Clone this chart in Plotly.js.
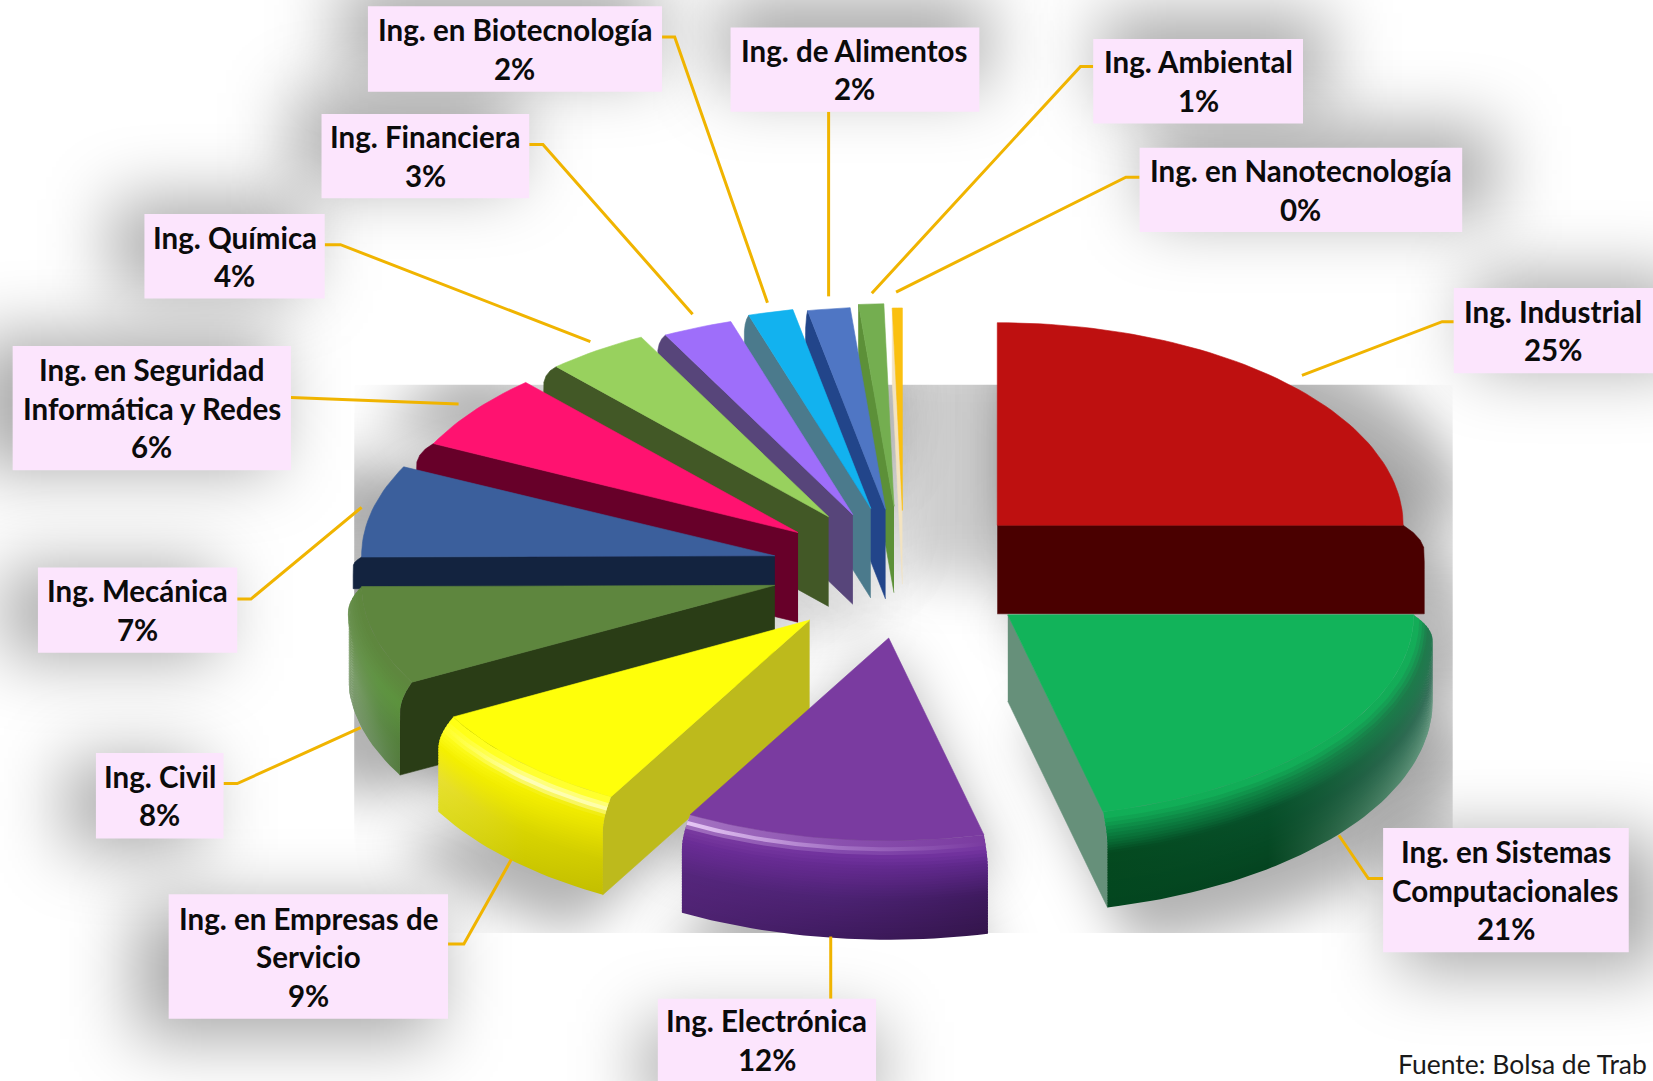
<!DOCTYPE html>
<html><head><meta charset="utf-8">
<script src="https://cdn.plot.ly/plotly-3.0.1.min.js"></script>
<style>html,body{margin:0;padding:0;background:#fff}#c{width:1653px;height:1081px}</style>
</head><body><div id="c"></div>
<script>
// DATA
const categories=["Ing. Industrial","Ing. en Sistemas\nComputacionales","Ing. Electrónica","Ing. en Empresas de\nServicio","Ing. Civil","Ing. Mecánica","Ing. en Seguridad\nInformática y Redes","Ing. Química","Ing. Financiera","Ing. en Biotecnología","Ing. de Alimentos","Ing. Ambiental","Ing. en Nanotecnología"];
const values=[25.2,21.4,12,9,7.9,7.4,6.1,4.1,2.8,1.8,1.7,1,0.4];
// STYLE
const topColors=["#BE1010","#12B35A","#7A3BA0","#FFFF0A","#5E863E","#3B5F9C","#FF1270","#98D15E","#9E6EFA","#12B2EF","#4F76C4","#74AE50","#FAC010"];
const faceColors=["#4A0000","#66907A","#4E2272","#BDBA1C","#2A3D16","#13233F","#670029","#425826","#57457A","#4B7A8C","#22458A","#5C9038","#F3E3C0"];
// rim colour profiles, top to bottom of the rim, at the left / middle / right of a slice
const rimStops=[null,
 [[[0,"#12B35A"],[.15,"#0A7F40"],[.35,"#04491F"],[1,"#03461F"]],
  [[0,"#12B35A"],[.12,"#0E7F42"],[.3,"#07502A"],[1,"#04431F"]],
  [[0,"#12B35A"],[.12,"#1F7A4C"],[.5,"#35705A"],[1,"#6A9C84"]]],
 [[[0,"#7A3BA0"],[.04,"#F3D8FF"],[.09,"#7A3BA0"],[.2,"#6A2C96"],[.55,"#55267C"],[1,"#4F2373"]],
  [[0,"#7A3BA0"],[.04,"#A878C8"],[.09,"#7333A0"],[.2,"#642A90"],[.55,"#4C2272"],[1,"#3E1A5E"]],
  [[0,"#7A3BA0"],[.04,"#7A3BA0"],[.09,"#7333A0"],[.2,"#5E288A"],[.55,"#3E1A5E"],[1,"#33154A"]]],
 [[[0,"#FFFF0A"],[.1,"#FFFF20"],[.25,"#F5F000"],[.6,"#E8E030"],[1,"#DEDC20"]],
  [[0,"#FFFF0A"],[.07,"#FFFFC0"],[.14,"#F5F000"],[.6,"#D8D400"],[1,"#CBC700"]],
  [[0,"#FFFF0A"],[.07,"#FFFFB0"],[.14,"#EEE800"],[.6,"#CFCA00"],[1,"#C2BD00"]]],
 [[[0,"#5E863E"],[.2,"#6A9050"],[.6,"#80A070"],[1,"#7E9A72"]],
  [[0,"#5E863E"],[.2,"#5F9442"],[.6,"#5E8A48"],[1,"#668A58"]],
  [[0,"#5E863E"],[.2,"#5A923A"],[.6,"#4E7A34"],[1,"#4A7030"]]],
];
// LAYOUT GEOMETRY (in the 1568 x 1025 frame of the axes)
const tipX=[946,956,843,768,735,735,757,786,809,826,840,848,856];
const tipY=[498,583,605,588,555,527,505,490,488,482,483,480,484];
const radX=[385,385,385,385,392,392,385,385,385,385,385,385,385];
const radY=[192,192,192,192,192,192,192,192,192,192,192,192,192];
const depth=[84,82,86,86,85,30,85,85,85,85,85,82,70];
const bulge=[20,18,16,16,13,8,18,18,16,14,10,2,0];
const drawOrder=[12,11,10,9,8,7,6,5,4,3,2,0,1];
const boxX0=[1379,1312,624,160,91,36,12,137,305,349,693,1037,1081];
const boxX1=[1568,1545,831,425,212,225,276,308,502,628,929,1236,1387];
const boxY0=[273,785,947,848,714,538,328,203,108,6,26,37,140];
const boxY1=[354,903,1025,966,795,619,446,283,188,87,106,117,220];
const leadX=[[1379,1368,1235],[1312,1298,1270],[788,788],[425,440,485],[212,225,342],[225,238,343],[276,435],[308,323,560],[502,515,657],[628,640,728],[786,786],[1037,1025,827],[1081,1068,850]];
const leadY=[[305,305,356],[833,833,792],[947,888],[895,895,815],[743,743,690],[568,568,481],[377,383],[232,232,324],[137,137,298],[35,35,287],[106,281],[63,63,278],[168,168,277]];
const sourceText="Fuente: Bolsa de Trab";

const W=1568,H=1025,PX=1653/1568;
const total=values.reduce((a,b)=>a+b,0);
const angStart=[],angEnd=[];let acc=-90;
values.forEach((v,i)=>{angStart[i]=acc;acc+=360*v/total;angEnd[i]=acc;});
const rad=d=>d*Math.PI/180;
function prof(i,t){const u=Math.min(t/.3,1);return bulge[i]*(1-(1-u)*(1-u));}
function pt(i,a,t){const dr=prof(i,t);return [tipX[i]+(radX[i]+dr)*Math.cos(rad(a)),tipY[i]+(radY[i]+dr/2)*Math.sin(rad(a))+depth[i]*t];}
function arc(i,a0,a1,t){const n=Math.max(2,Math.ceil(Math.abs(a1-a0)/1.5));const r=[];for(let k=0;k<=n;k++)r.push(pt(i,a0+(a1-a0)*k/n,t));return r;}
function hex(c){return [1,3,5].map(k=>parseInt(c.substr(k,2),16));}
function colorAt(st,t){for(let k=1;k<st.length;k++){if(t<=st[k][0]){const f=(t-st[k-1][0])/(st[k][0]-st[k-1][0]);const a=hex(st[k-1][1]),b=hex(st[k][1]);return "rgb("+a.map((v,j)=>Math.round(v+(b[j]-v)*f)).join(",")+")";}}return "rgb("+hex(st[st.length-1][1]).join(",")+")";}
function poly(points,color,name){return {type:"scatter",mode:"lines",x:points.map(p=>p[0]),y:points.map(p=>p[1]),fill:"toself",fillcolor:color,line:{color:color,width:.6},name:name,hoverinfo:"name",showlegend:false};}

const traces=[];
drawOrder.forEach(i=>{
 const name=categories[i].replace("\n"," ");
 const a0=angStart[i],a1=angEnd[i];
 const tip=[tipX[i],tipY[i]],tipB=[tipX[i],tipY[i]+depth[i]];
 const ts=[];for(let k=0;k<=12;k++)ts.push(k/12);
 const face=a=>[tip].concat(ts.map(t=>pt(i,a,t))).concat([tipB]);
 const norm=a=>((a%360)+360)%360;
 if(norm(a0)>90&&norm(a0)<270)traces.push(poly(face(a0),faceColors[i],name));
 if(norm(a1)<90||norm(a1)>270)traces.push(poly(face(a1),faceColors[i],name));
 const f0=Math.max(a0,0),f1=Math.min(a1,180);
 if(f1>f0&&rimStops[i]){
  const K=34;
  const xs=arc(i,f0,f1,.5).map(p=>p[0]).concat(arc(i,f0,f1,0).map(p=>p[0]),arc(i,f0,f1,1).map(p=>p[0]));
  const xa=Math.min(...xs),xb=Math.max(...xs);
  for(let k=K-1;k>=0;k--){
   const t0=k/K,t1=Math.min(1,(k+1.6)/K),tm=(k+.5)/K;
   const tr=poly(arc(i,f0,f1,t0).concat(arc(i,f1,f0,t1)),colorAt(rimStops[i][1],tm),name);
   tr.line={width:0};
   tr.fillgradient={type:"horizontal",start:xa,stop:xb,colorscale:[[0,colorAt(rimStops[i][0],tm)],[.5,colorAt(rimStops[i][1],tm)],[1,colorAt(rimStops[i][2],tm)]]};
   delete tr.fillcolor;
   traces.push(tr);
  }
 }
 traces.push(poly([tip].concat(arc(i,a0,a1,0)).concat([tip]),topColors[i],name));
});

function backdrop(){
 const cv=document.createElement("canvas");cv.width=1653;cv.height=1081;
 const g=cv.getContext("2d");g.fillStyle="#fff";g.fillRect(0,0,1653,1081);g.scale(PX,PX);
 const cx=840,cy=520;
 g.save();g.beginPath();g.rect(336,365,1042,520);g.clip();
 g.filter="blur(26px)";g.fillStyle="rgba(0,0,0,.3)";
 values.forEach((v,i)=>{
  const p=[[tipX[i],tipY[i]]].concat(arc(i,angStart[i],angEnd[i],0));
  [0,1].forEach(l=>{g.beginPath();p.forEach((q,k)=>{const X=cx+(q[0]-cx)*1.13,Y=cy+(q[1]+(l?Math.max(depth[i],85):0)-cy)*1.13;k?g.lineTo(X,Y):g.moveTo(X,Y);});g.closePath();g.fill();});
 });
 g.fillStyle="rgba(0,0,0,.2)";
 g.fillRect(862,330,110,220);
 g.fillRect(700,560,130,30);
 g.restore();
 g.filter="blur(34px)";g.fillStyle="rgba(0,0,0,.34)";
 categories.forEach((c,i)=>{
  const mx=(boxX0[i]+boxX1[i])/2,my=(boxY0[i]+boxY1[i])/2;
  const dx=mx-cx,dy=my-cy,d=Math.hypot(dx,dy);
  const w=(boxX1[i]-boxX0[i])*1.08,h=(boxY1[i]-boxY0[i])*1.08;
  g.fillRect(mx+dx/d*26-w/2,my+dy/d*26-h/2,w,h);
 });
 g.filter="none";
 return cv.toDataURL("image/png");
}

const shapes=[],annotations=[];
categories.forEach((c,i)=>{
 let path="";leadX[i].forEach((x,k)=>{path+=(k?"L":"M")+x+" "+leadY[i][k];});
 shapes.push({type:"path",path:path,xref:"x",yref:"y",line:{color:"#F0B400",width:3},layer:"above"});
 shapes.push({type:"rect",xref:"x",yref:"y",x0:boxX0[i],x1:boxX1[i],y0:boxY0[i],y1:boxY1[i],fillcolor:"#FCE5FD",line:{width:0},layer:"above"});
 const lines=c.split("\n").concat([Math.round(values[i])+"%"]);
 const step=36.5,mid=(boxY0[i]+boxY1[i])/2,cxx=(boxX0[i]+boxX1[i])/2;
 lines.forEach((t,k)=>{
  annotations.push({xref:"x",yref:"y",x:cxx,y:mid+(k-(lines.length-1)/2)*step,text:"<b>"+t+"</b>",showarrow:false,xanchor:"center",yanchor:"middle",font:{family:"Lato",size:29.5,color:"#0b0b0b"}});
 });
});
annotations.push({xref:"x",yref:"y",x:1324,y:1009,text:sourceText,showarrow:false,xanchor:"left",yanchor:"middle",font:{family:"Lato",size:26.5,color:"#1a1a1a"}});

Plotly.newPlot("c",traces,{
 width:1653,height:1081,margin:{l:0,r:0,t:0,b:0},paper_bgcolor:"#fff",plot_bgcolor:"rgba(0,0,0,0)",showlegend:false,
 xaxis:{range:[0,W],visible:false,fixedrange:true},
 yaxis:{range:[H,0],visible:false,fixedrange:true},
 images:[{source:backdrop(),xref:"paper",yref:"paper",x:0,y:1,sizex:1,sizey:1,xanchor:"left",yanchor:"top",sizing:"stretch",layer:"below"}],
 shapes:shapes,annotations:annotations,hovermode:"closest"
},{displayModeBar:false});
</script></body></html>
